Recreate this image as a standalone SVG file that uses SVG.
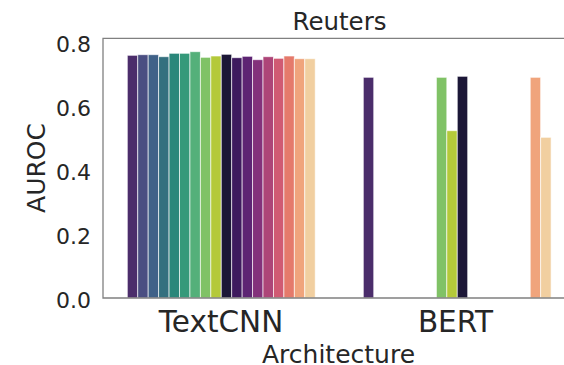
<svg xmlns="http://www.w3.org/2000/svg" width="564" height="365" viewBox="0 0 564 365">
<style>
text{font-family:"DejaVu Sans",sans-serif;fill:#262626}
.tk{font-size:22px;text-anchor:end}
.lab{font-size:25px;text-anchor:middle}
.cat{font-size:29.5px;text-anchor:middle}
.spine{stroke:#808080;stroke-width:1.3;fill:none}
rect{stroke:#ffffff;stroke-width:0.9;stroke-opacity:0.7}
</style>
<rect width="564" height="365" fill="#ffffff" stroke="none"/>
<g id="bars-textcnn">
<rect x="127.3" y="55.3" width="10.44" height="242.7" fill="#4b2d6b"/>
<rect x="137.74" y="54.7" width="10.44" height="243.3" fill="#4a4e82"/>
<rect x="148.18" y="54.7" width="10.44" height="243.3" fill="#3f6188"/>
<rect x="158.62" y="56.7" width="10.44" height="241.3" fill="#34707f"/>
<rect x="169.06" y="53.3" width="10.44" height="244.7" fill="#2a877a"/>
<rect x="179.5" y="53.3" width="10.44" height="244.7" fill="#35997a"/>
<rect x="189.94" y="51.7" width="10.44" height="246.3" fill="#54b07a"/>
<rect x="200.38" y="57.3" width="10.44" height="240.7" fill="#80c266"/>
<rect x="210.82" y="56" width="10.44" height="242" fill="#b4c93a"/>
<rect x="221.26" y="54.3" width="10.44" height="243.7" fill="#1c1737"/>
<rect x="231.7" y="57.7" width="10.44" height="240.3" fill="#3e1a5e"/>
<rect x="242.14" y="56.3" width="10.44" height="241.7" fill="#5d2473"/>
<rect x="252.58" y="59.7" width="10.44" height="238.3" fill="#83317b"/>
<rect x="263.02" y="56.7" width="10.44" height="241.3" fill="#ad4578"/>
<rect x="273.46" y="58.3" width="10.44" height="239.7" fill="#d05a73"/>
<rect x="283.9" y="56" width="10.44" height="242" fill="#e57a6b"/>
<rect x="294.34" y="58.7" width="10.44" height="239.3" fill="#f0a47c"/>
<rect x="304.78" y="58.7" width="10.44" height="239.3" fill="#f1cfa0"/>
</g>
<g id="bars-bert">
<rect x="363.3" y="77.3" width="10.44" height="220.7" fill="#4b2d6b"/>
<rect x="436.38" y="77.3" width="10.44" height="220.7" fill="#80c266"/>
<rect x="446.82" y="130.7" width="10.44" height="167.3" fill="#b4c93a"/>
<rect x="457.26" y="76.3" width="10.44" height="221.7" fill="#1c1737"/>
<rect x="530.22" y="77.3" width="10.44" height="220.7" fill="#f0a47c"/>
<rect x="540.66" y="137.3" width="10.44" height="160.7" fill="#f1cfa0"/>
</g>
<g id="axes">
<path class="spine" d="M564 38.3H103V298H564"/>
</g>
<g id="yticks">
<text class="tk" x="91" y="51.6">0.8</text>
<text class="tk" x="91" y="115.6">0.6</text>
<text class="tk" x="91" y="179.6">0.4</text>
<text class="tk" x="91" y="243.6">0.2</text>
<text class="tk" x="91" y="307.5">0.0</text>
</g>
<g id="xticks">
<text class="cat" x="221" y="332.3">TextCNN</text>
<text class="cat" x="455.5" y="332.3">BERT</text>
</g>
<text class="lab" x="338.5" y="362.5">Architecture</text>
<text class="lab" transform="translate(44.5 168) rotate(-90)" x="0" y="0">AUROC</text>
<text class="lab" x="339.5" y="30" style="font-size:24.5px">Reuters</text>
</svg>
